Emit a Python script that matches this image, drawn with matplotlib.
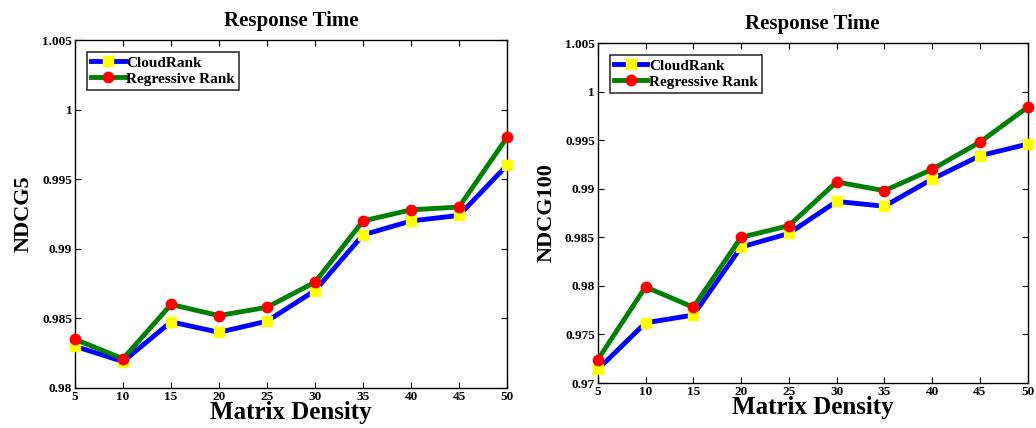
import matplotlib
matplotlib.use("Agg")
import matplotlib.pyplot as plt
from matplotlib.ticker import FuncFormatter

plt.rcParams["font.family"] = ["Liberation Serif", "DejaVu Serif"]
plt.rcParams["font.weight"] = "bold"

densidade = [5, 10, 15, 20, 25, 30, 35, 40, 45, 50]

# NDCG5
cloud_ndcg5 = [0.9830, 0.9819, 0.98475, 0.9840, 0.9848, 0.9870, 0.9910, 0.9920, 0.9924, 0.9960]
regr_ndcg5 = [0.9835, 0.9821, 0.9860, 0.9852, 0.9858, 0.9876, 0.9920, 0.9928, 0.9930, 0.9980]

# NDCG100
cloud_ndcg100 = [0.9714, 0.9762, 0.9770, 0.9840, 0.9854, 0.9887, 0.9882, 0.9910, 0.9934, 0.9946]
regr_ndcg100 = [0.9724, 0.9799, 0.9778, 0.9850, 0.9862, 0.9907, 0.9898, 0.9920, 0.9948, 0.9984]

fig = plt.figure(figsize=(10.36, 4.28), dpi=100)
ax1 = fig.add_axes([0.0724, 0.0935, 0.417, 0.813])
ax2 = fig.add_axes([0.577, 0.105, 0.415, 0.7944])

fmt = FuncFormatter(lambda v, p: "%g" % round(v, 4))


def desenha(ax, cloud, regr, ylabel, ylim, yticks):
    ax.plot(densidade, cloud, color="blue", lw=3.5, marker="s", ms=7,
            mfc="yellow", mec="yellow", label="CloudRank", clip_on=False, zorder=3)
    ax.plot(densidade, regr, color="green", lw=3.5, marker="o", ms=7.5,
            mfc="red", mec="red", label="Regressive Rank", clip_on=False, zorder=4)
    ax.set_xlim(5, 50)
    ax.set_ylim(*ylim)
    ax.set_xticks(densidade)
    ax.set_yticks(yticks)
    ax.yaxis.set_major_formatter(fmt)
    ax.tick_params(direction="in", top=True, right=True, labelsize=9.5, length=4, pad=2)
    for lab in ax.get_xticklabels() + ax.get_yticklabels():
        lab.set_fontweight("bold")
    ax.set_title("Response Time", fontsize=15, fontweight="bold", pad=10)
    ax.set_xlabel("Matrix Density", fontsize=18, fontweight="bold", labelpad=-1)
    ax.set_ylabel(ylabel, fontsize=16, fontweight="bold", labelpad=6)
    leg = ax.legend(loc="upper left", fontsize=11, frameon=True, fancybox=False,
                    edgecolor="black", handlelength=2.2, handletextpad=0.1,
                    borderpad=0.25, labelspacing=0.15, borderaxespad=0.8)
    leg.get_frame().set_linewidth(1.2)
    for t in leg.get_texts():
        t.set_fontweight("bold")
    for s in ax.spines.values():
        s.set_linewidth(1.0)


desenha(ax1, cloud_ndcg5, regr_ndcg5, "NDCG5", (0.98, 1.005),
        [0.98, 0.985, 0.99, 0.995, 1.0, 1.005])
desenha(ax2, cloud_ndcg100, regr_ndcg100, "NDCG100", (0.97, 1.005),
        [0.97, 0.975, 0.98, 0.985, 0.99, 0.995, 1.0, 1.005])

fig.savefig("out.png", dpi=100)
